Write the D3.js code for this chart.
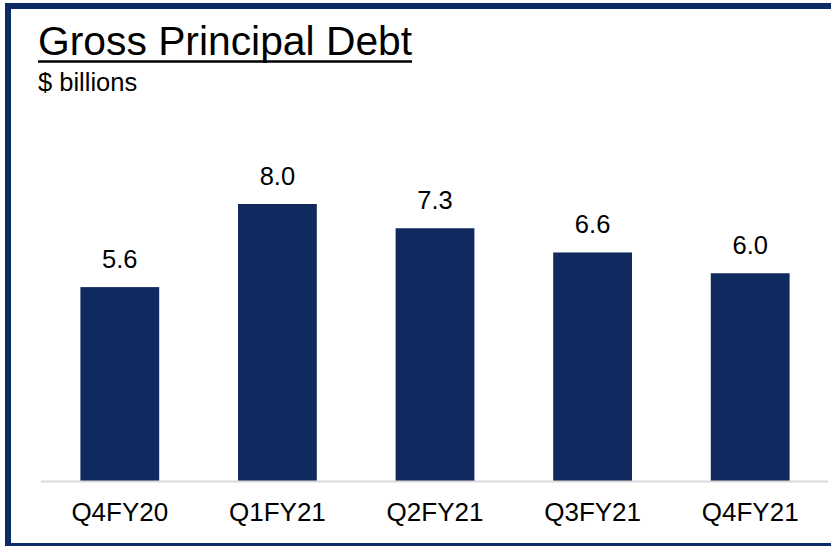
<!DOCTYPE html>
<html>
<head>
<meta charset="utf-8">
<script src="https://cdn.jsdelivr.net/npm/d3@7"></script>
<style>
  html, body { margin: 0; padding: 0; background: #ffffff; }
  svg { display: block; }
  text { font-family: "Liberation Sans", Arial, sans-serif; fill: #000; }
</style>
</head>
<body>
<svg id="chart" width="831" height="546"></svg>
<script>
const categories = ["Q4FY20", "Q1FY21", "Q2FY21", "Q3FY21", "Q4FY21"];
const values = [5.6, 8.0, 7.3, 6.6, 6.0];
const valueLabels = ["5.6", "8.0", "7.3", "6.6", "6.0"];
const title = "Gross Principal Debt";
const subtitle = "$ billions";

const svg = d3.select("#chart");

// frame
svg.append("rect")
  .attr("x", 8).attr("y", 6)
  .attr("width", 840).attr("height", 540)
  .attr("fill", "none")
  .attr("stroke", "#0c2a64")
  .attr("stroke-width", 6);

// title
const t = svg.append("text")
  .attr("x", 38).attr("y", 55)
  .attr("font-size", 40.8)
  .text(title);
const tw = t.node().getComputedTextLength();
svg.append("line")
  .attr("x1", 38).attr("x2", 38 + tw)
  .attr("y1", 61.5).attr("y2", 61.5)
  .attr("stroke", "#000").attr("stroke-width", 2.5);

svg.append("text")
  .attr("x", 38).attr("y", 91)
  .attr("font-size", 25.5)
  .text(subtitle);

const x = d3.scaleBand()
  .domain(categories)
  .range([41, 829])
  .paddingInner(0.5)
  .paddingOuter(0.25);

const y = d3.scaleLinear()
  .domain([0, 8])
  .range([481, 204]);

const data = categories.map((c, i) => ({ c, v: values[i], l: valueLabels[i] }));

svg.append("g").selectAll("rect")
  .data(data)
  .join("rect")
  .attr("x", d => x(d.c))
  .attr("y", d => y(d.v))
  .attr("width", x.bandwidth())
  .attr("height", d => y(0) - y(d.v))
  .attr("fill", "#10295f");

svg.append("g").selectAll("text")
  .data(data)
  .join("text")
  .attr("x", d => x(d.c) + x.bandwidth() / 2)
  .attr("y", d => y(d.v) - 19)
  .attr("text-anchor", "middle")
  .attr("font-size", 25.5)
  .text(d => d.l);

// x axis
const axis = svg.append("g")
  .attr("transform", `translate(0, ${y(0)})`)
  .call(d3.axisBottom(x).tickSize(0).tickPadding(0));
axis.select(".domain")
  .attr("d", `M41,0.5H828`)
  .attr("stroke", "#d9d9d9")
  .attr("stroke-width", 2);
axis.selectAll(".tick text")
  .attr("dy", null)
  .attr("y", 40)
  .attr("font-size", 26)
  .attr("font-family", "Liberation Sans, Arial, sans-serif")
  .attr("fill", "#000");
</script>
</body>
</html>
